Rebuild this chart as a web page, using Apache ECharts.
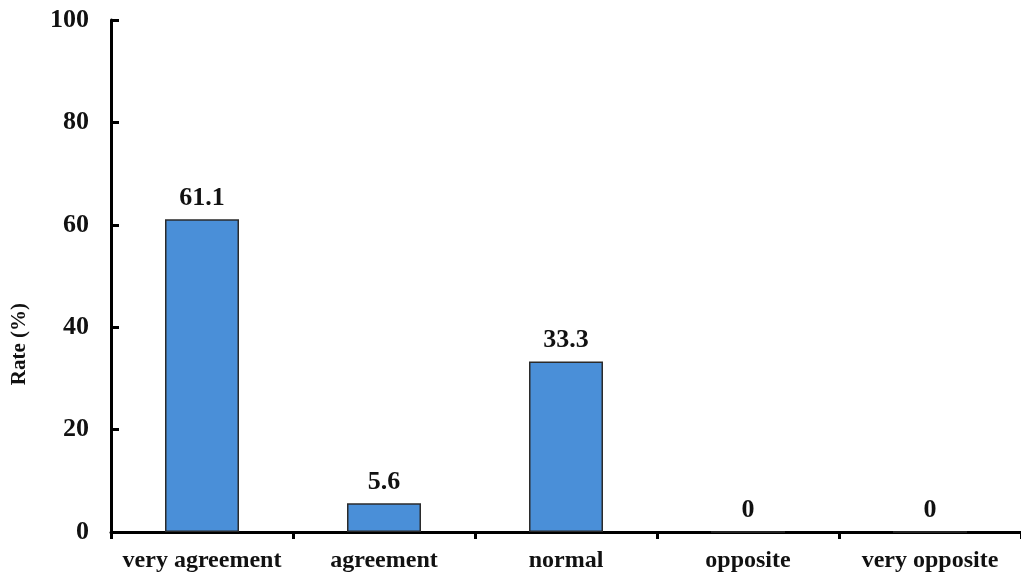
<!DOCTYPE html>
<html>
<head>
<meta charset="utf-8">
<script src="https://cdn.jsdelivr.net/npm/echarts@6/dist/echarts.min.js"></script>
<style>html,body{margin:0;padding:0;background:#fff;}#c{width:1021px;height:580px;}</style>
</head>
<body>
<div id="c"></div>
<script>
const categories = ['very agreement', 'agreement', 'normal', 'opposite', 'very opposite'];
const rates = [61.1, 5.6, 33.3, 0, 0];
const yTicks = [0, 20, 40, 60, 80, 100];

const chart = echarts.init(document.getElementById('c'));
const font = '"Liberation Serif", "DejaVu Serif", serif';
chart.setOption({
  backgroundColor: '#fff',
  animation: false,
  grid: { left: 111, top: 20, bottom: 48, width: 915, containLabel: false },
  xAxis: {
    type: 'category',
    data: categories,
    axisLine: { lineStyle: { color: '#000', width: 3 } },
    axisTick: { show: true, alignWithLabel: false, length: 7, lineStyle: { color: '#000', width: 3 } },
    axisLabel: { color: '#111', fontFamily: font, fontWeight: 'bold', fontSize: 24, margin: 17, interval: 0 }
  },
  yAxis: {
    type: 'value',
    min: yTicks[0], max: yTicks[yTicks.length - 1], interval: 20,
    axisLine: { show: true, lineStyle: { color: '#000', width: 3 } },
    axisTick: { show: true, inside: true, length: 8, lineStyle: { color: '#000', width: 3 } },
    splitLine: { show: false },
    axisLabel: { color: '#111', fontFamily: font, fontWeight: 'bold', fontSize: 26, margin: 22 }
  },
  graphic: [{
    type: 'text',
    left: 9, top: 303,
    rotation: Math.PI / 2,
    style: { text: 'Rate (%)', fill: '#111', font: 'bold 21px ' + font }
  }],
  series: [{
    type: 'bar',
    data: rates,
    barWidth: 74,
    itemStyle: { color: '#4a8fd8', borderColor: '#2b2b2b', borderWidth: 1.5 },
    label: { show: true, position: 'top', distance: 8, color: '#111', fontFamily: font, fontWeight: 'bold', fontSize: 26 }
  }]
});
</script>
</body>
</html>
